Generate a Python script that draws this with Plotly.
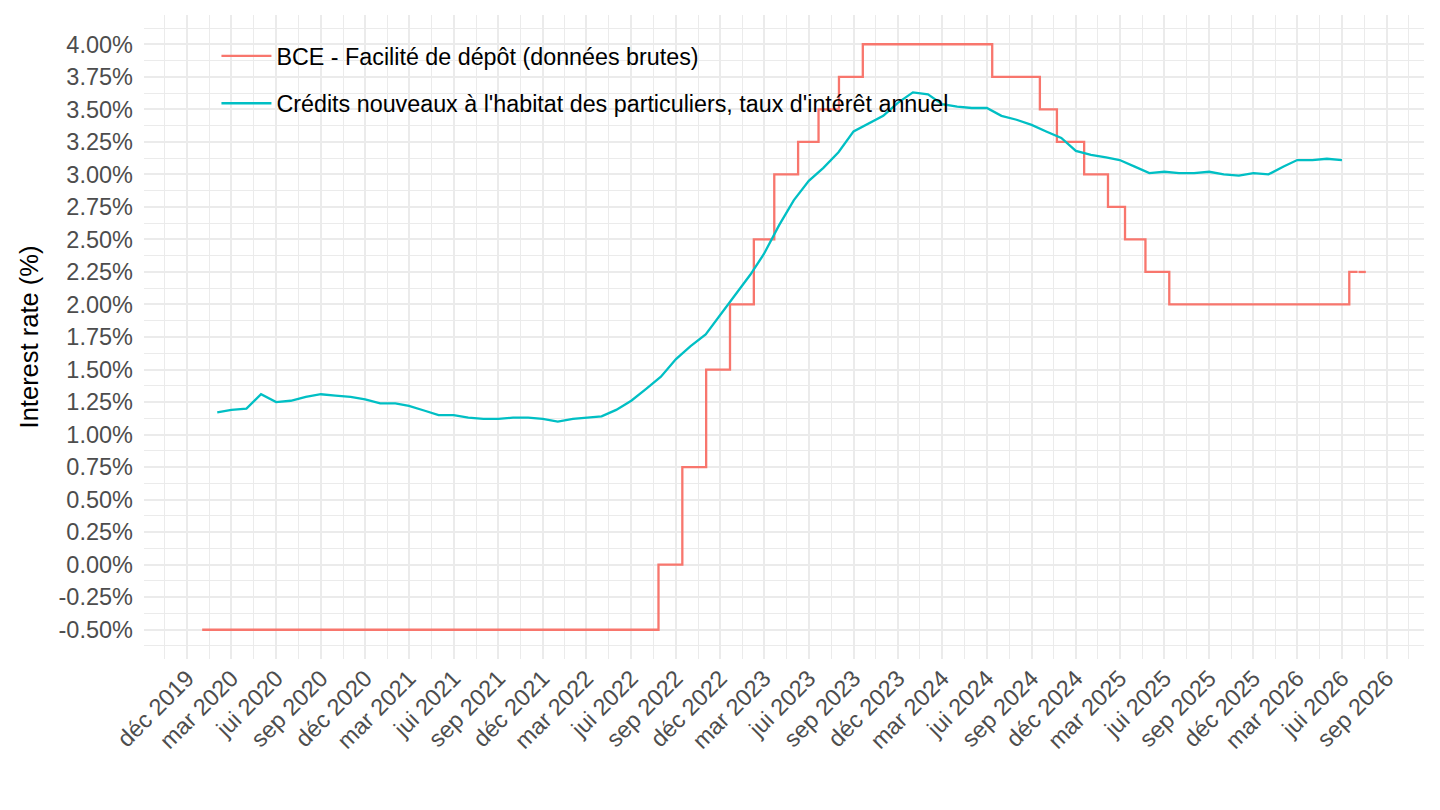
import pandas as pd
import plotly.graph_objects as go

# ---- Data ----
# ECB deposit facility rate (change dates, step series)
ecb_dates = ["2020-01-01", "2022-07-27", "2022-09-14", "2022-11-02", "2022-12-21",
             "2023-02-08", "2023-03-22", "2023-05-10", "2023-06-21", "2023-08-02",
             "2023-09-20", "2024-06-12", "2024-09-18", "2024-10-23", "2024-12-18",
             "2025-02-05", "2025-03-12", "2025-04-23", "2025-06-11", "2026-06-16",
             "2026-07-03", "2026-07-04", "2026-07-05", "2026-07-20"]
ecb_values = [-0.50, 0.00, 0.75, 1.50, 2.00,
              2.50, 3.00, 3.25, 3.50, 3.75,
              4.00, 3.75, 3.50, 3.25, 3.00,
              2.75, 2.50, 2.25, 2.00, 2.25,
              2.25, None, 2.25, 2.25]

# New housing loans to households, annual interest rate (monthly)
loan_months = pd.date_range("2020-02-01", "2026-06-01", freq="MS")
loan_values = [
    1.17, 1.19, 1.20, 1.31, 1.25, 1.26, 1.29, 1.31, 1.30, 1.29, 1.27,          # 2020 Feb-Dec
    1.24, 1.24, 1.22, 1.185, 1.15, 1.15, 1.13, 1.12, 1.12, 1.13, 1.13, 1.12,  # 2021
    1.10, 1.12, 1.13, 1.14, 1.19, 1.26, 1.35, 1.445, 1.58, 1.68, 1.77, 1.92,  # 2022
    2.07, 2.23, 2.39, 2.61, 2.80, 2.95, 3.05, 3.17, 3.33, 3.39, 3.45, 3.55,   # 2023
    3.63, 3.615, 3.54, 3.52, 3.51, 3.51, 3.45, 3.42, 3.38, 3.33, 3.28, 3.18,  # 2024
    3.15, 3.13, 3.11, 3.06, 3.01, 3.02, 3.01, 3.01, 3.02, 3.00, 2.99, 3.01,   # 2025
    3.00, 3.06, 3.11, 3.11, 3.12, 3.11,                                       # 2026 Jan-Jun
]

series_names = ["BCE - Facilité de dépôt (données brutes)",
                "Crédits nouveaux à l'habitat des particuliers, taux d'intérêt annuel"]

x_tick_dates = pd.date_range("2019-12-01", "2026-09-01", freq="3MS")
month_abbr = {12: "déc", 3: "mar", 6: "jui", 9: "sep"}
x_tick_labels = [f"{month_abbr[d.month]} {d.year}" for d in x_tick_dates]

y_tick_values = [-0.5 + 0.25 * i for i in range(19)]
y_tick_labels = [f"{v:.2f}%" for v in y_tick_values]

# ---- Figure ----
RED = "#F8766D"
BLUE = "#00BFC4"
FONT = "Liberation Sans, Arial, Helvetica, sans-serif"

fig = go.Figure()
fig.add_trace(go.Scatter(x=pd.to_datetime(ecb_dates), y=ecb_values, mode="lines",
                         line=dict(color=RED, width=2.3, shape="hv"),
                         name=series_names[0], legendgroup="a", connectgaps=False))
fig.add_trace(go.Scatter(x=loan_months, y=loan_values, mode="lines",
                         line=dict(color=BLUE, width=2.3),
                         name=series_names[1], legendgroup="b"))

# ranges with 5% expansion like ggplot
all_dates = list(pd.to_datetime(ecb_dates)) + list(loan_months)
xmin, xmax = min(all_dates), max(all_dates)
xpad = (xmax - xmin) * 0.05
all_vals = [v for v in ecb_values + loan_values if v is not None]
ymin, ymax = min(all_vals), max(all_vals)
ypad = (ymax - ymin) * 0.05

# minor x gridlines midway between major ticks
mids = [x_tick_dates[i] + (x_tick_dates[i + 1] - x_tick_dates[i]) / 2 for i in range(len(x_tick_dates) - 1)]
step = (x_tick_dates[1] - x_tick_dates[0]) / 2
minor_x = [x_tick_dates[0] - step] + mids + [x_tick_dates[-1] + step]

GRID = "#ebebeb"
TICKFONT = dict(size=23.5, color="#4d4d4d")
fig.update_layout(
    width=1440, height=810,
    paper_bgcolor="white", plot_bgcolor="white",
    margin=dict(l=136, r=24, t=7, b=159),
    font=dict(family=FONT, size=22, color="#4d4d4d"),
    showlegend=True,
    legend=dict(x=0.0566, y=0.970, xanchor="left", yanchor="top",
                bgcolor="rgba(0,0,0,0)", font=dict(size=23.3, color="black"),
                tracegroupgap=14, itemwidth=50),
    xaxis=dict(range=[xmin - xpad, xmax + xpad], tickmode="array",
               tickvals=list(x_tick_dates), ticktext=x_tick_labels, tickangle=-45,
               showgrid=True, gridcolor=GRID, gridwidth=2, zeroline=False,
               showline=False, ticks="", tickfont=TICKFONT,
               minor=dict(tickmode="array", tickvals=minor_x, showgrid=True,
                          gridcolor=GRID, gridwidth=1, ticks="")),
    yaxis=dict(range=[ymin - ypad, ymax + ypad], tickmode="array",
               tickvals=y_tick_values, ticktext=y_tick_labels,
               showgrid=True, gridcolor=GRID, gridwidth=2, zeroline=False,
               showline=False, ticks="", tickfont=TICKFONT, ticklabelstandoff=10,
               title=dict(text="Interest rate (%)", font=dict(size=25.5, color="black"), standoff=12),
               minor=dict(dtick=0.125, tick0=0, showgrid=True, gridcolor=GRID,
                          gridwidth=1, ticks="")),
)

fig.write_html("out.html")
